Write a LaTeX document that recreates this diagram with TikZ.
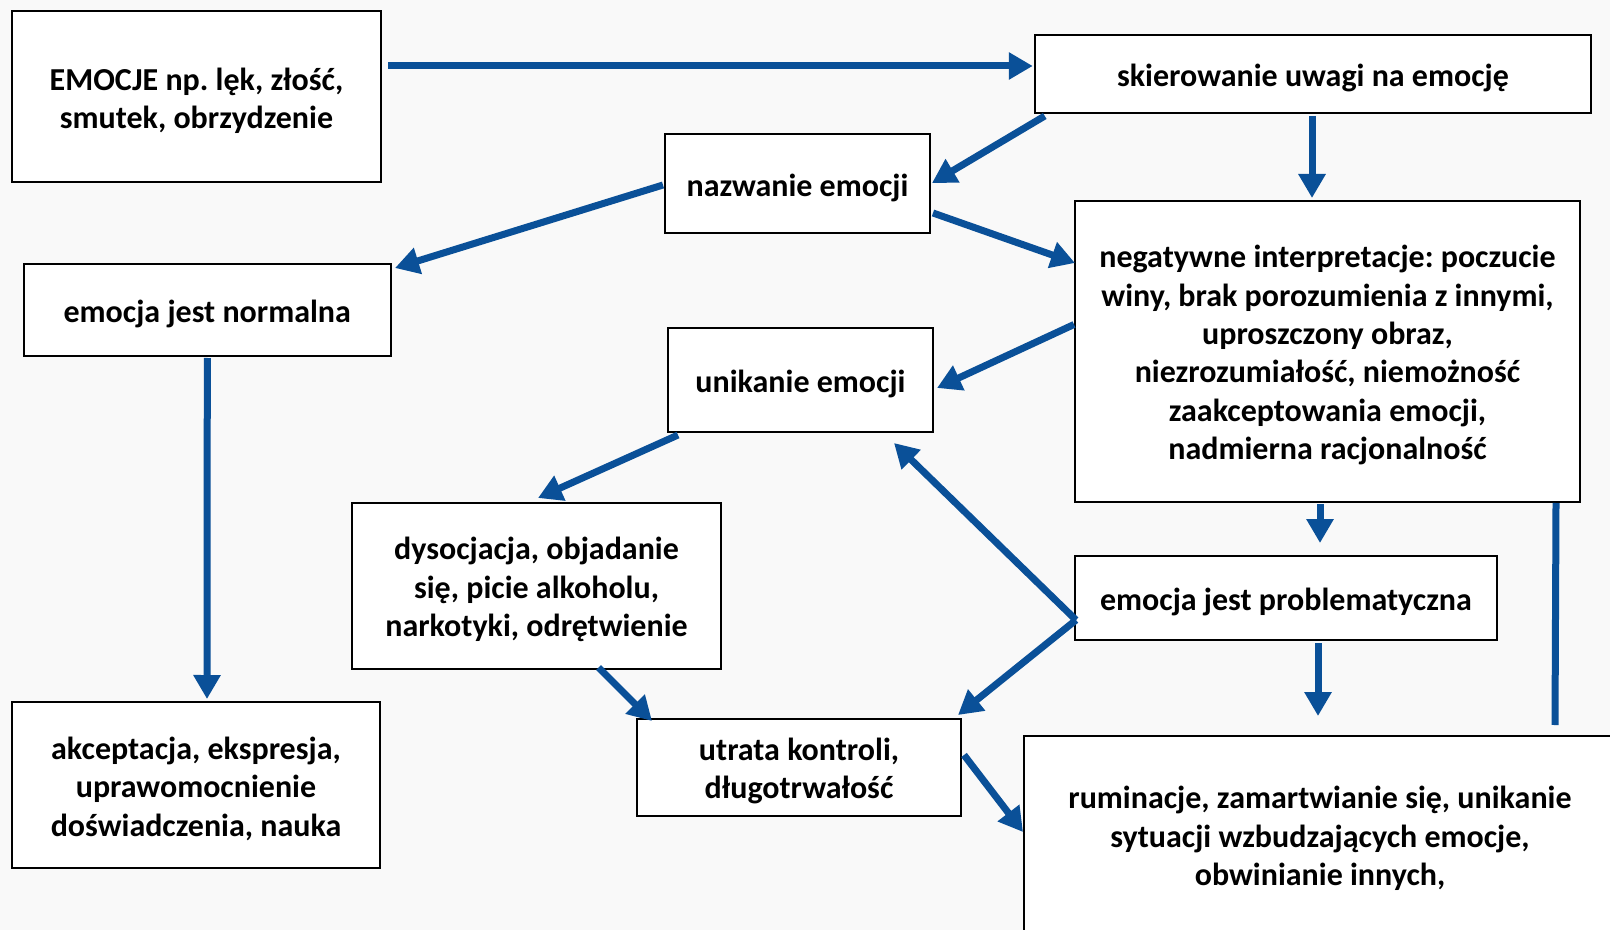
\documentclass[tikz,border=0pt]{standalone}
\usepackage{fontspec}
\setmainfont{Carlito}
\usetikzlibrary{arrows.meta,calc}
\definecolor{flowblue}{RGB}{10,80,152}
\definecolor{paper}{RGB}{249,249,249}
\begin{document}
\frenchspacing
\begin{tikzpicture}[x=0.5pt,y=-0.5pt,
  box/.style={draw=black, line width=1pt, fill=white, inner sep=0pt},
  txt/.style={align=center, inner sep=0pt, yshift=-1.8pt,
    font=\fontsize{16}{19.2}\selectfont\bfseries},
  flow/.style={draw=flowblue, line width=3.5pt,
    -{Triangle[length=12pt,width=13pt]}},
  bar/.style={draw=flowblue, line width=3.5pt}]
\useasboundingbox (0,0) rectangle (1610,930);
\fill[paper] (0,0) rectangle (1610,930);

% boxes, each with its text set slightly below the geometric centre
\node[box, minimum width=184.5pt, minimum height=85.5pt,
  label={[txt]center:{EMOCJE np. lęk, złość,\\smutek, obrzydzenie}}] (emo) at (196.5,97) {};
\node[box, minimum width=278.25pt, minimum height=39pt,
  label={[txt]center:{skierowanie uwagi na emocję}}] (skier) at (1313,74) {};
\node[box, minimum width=132.5pt, minimum height=49.5pt,
  label={[txt]center:{nazwanie emocji}}] (nazw) at (797.5,184) {};
\node[box, minimum width=252.5pt, minimum height=150.5pt,
  label={[txt]center:{negatywne interpretacje: poczucie\\winy, brak porozumienia z innymi,\\uproszczony obraz,\\niezrozumiałość, niemożność\\zaakceptowania emocji,\\nadmierna racjonalność}}] (neg) at (1327.5,351.5) {};
\node[box, minimum width=183.7pt, minimum height=46pt,
  label={[txt]center:{emocja jest normalna}}] (norm) at (207.3,310) {};
\node[box, minimum width=132.5pt, minimum height=52pt,
  label={[txt]center:{unikanie emocji}}] (unik) at (800.5,380) {};
\node[box, minimum width=184.5pt, minimum height=83pt,
  label={[txt]center:{dysocjacja, objadanie\\się, picie alkoholu,\\narkotyki, odrętwienie}}] (dys) at (536.5,586) {};
\node[box, minimum width=211pt, minimum height=42pt,
  label={[txt]center:{emocja jest problematyczna}}] (prob) at (1286,598) {};
\node[box, minimum width=184pt, minimum height=83pt,
  label={[txt]center:{akceptacja, ekspresja,\\uprawomocnienie\\doświadczenia, nauka}}] (akc) at (196,785) {};
\node[box, minimum width=162pt, minimum height=48.5pt,
  label={[txt]center:{utrata kontroli,\\długotrwałość}}] (utr) at (799,767.5) {};
\node[box, minimum width=296pt, minimum height=99pt,
  label={[txt]center:{ruminacje, zamartwianie się, unikanie\\sytuacji wzbudzających emocje,\\obwinianie innych,}}] (rum) at (1320,835) {};

% connectors
\draw[flow] ($(emo.east)+(6,-31)$) -- ($(skier.west)+(-1,-8)$);
\draw[flow] ($(skier.south west)+(11,2)$) -- ($(nazw.east)+(1,-1)$);
\draw[flow] ($(nazw.east)+(2,29)$) -- ($(neg.west)+(1,-88.5)$);
\draw[flow] ($(skier.south)+(-1,2)$) -- ($(neg.north)+(-15.5,-2)$);
\draw[flow] ($(nazw.west)+(-1,1)$) -- ($(norm.north east)+(3,5)$);
\draw[flow] ($(norm.south)+(0,1)$) -- ($(akc.north)+(11,-2)$);
\draw[flow] ($(neg.west)+(0,-27)$) -- ($(unik.east)+(3,8)$);
\draw[flow] ($(unik.south west)+(11,2)$) -- ($(dys.north)+(1.5,-4)$);
\draw[flow] ($(neg.south)+(-7.5,1)$) -- ($(prob.north)+(34,-12)$);
\draw[flow] ($(prob.west)+(2,22)$) -- ($(unik.south east)+(-40,10)$);
\draw[flow] ($(prob.west)+(2,22)$) -- ($(utr.north east)+(-4,-3)$);
\draw[flow] ($(dys.south)+(62,-2.5)$) -- ($(utr.north west)+(16,3)$);
\draw[flow] ($(utr.east)+(2,-12.5)$) -- ($(rum.west)+(0,-3)$);
\draw[flow] ($(prob.south)+(32,2)$) -- ($(rum.north)+(-2,-19)$);
\draw[bar] ($(neg.south east)+(-25,0)$) -- ($(rum.north)+(235,-10)$);
\end{tikzpicture}
\end{document}
